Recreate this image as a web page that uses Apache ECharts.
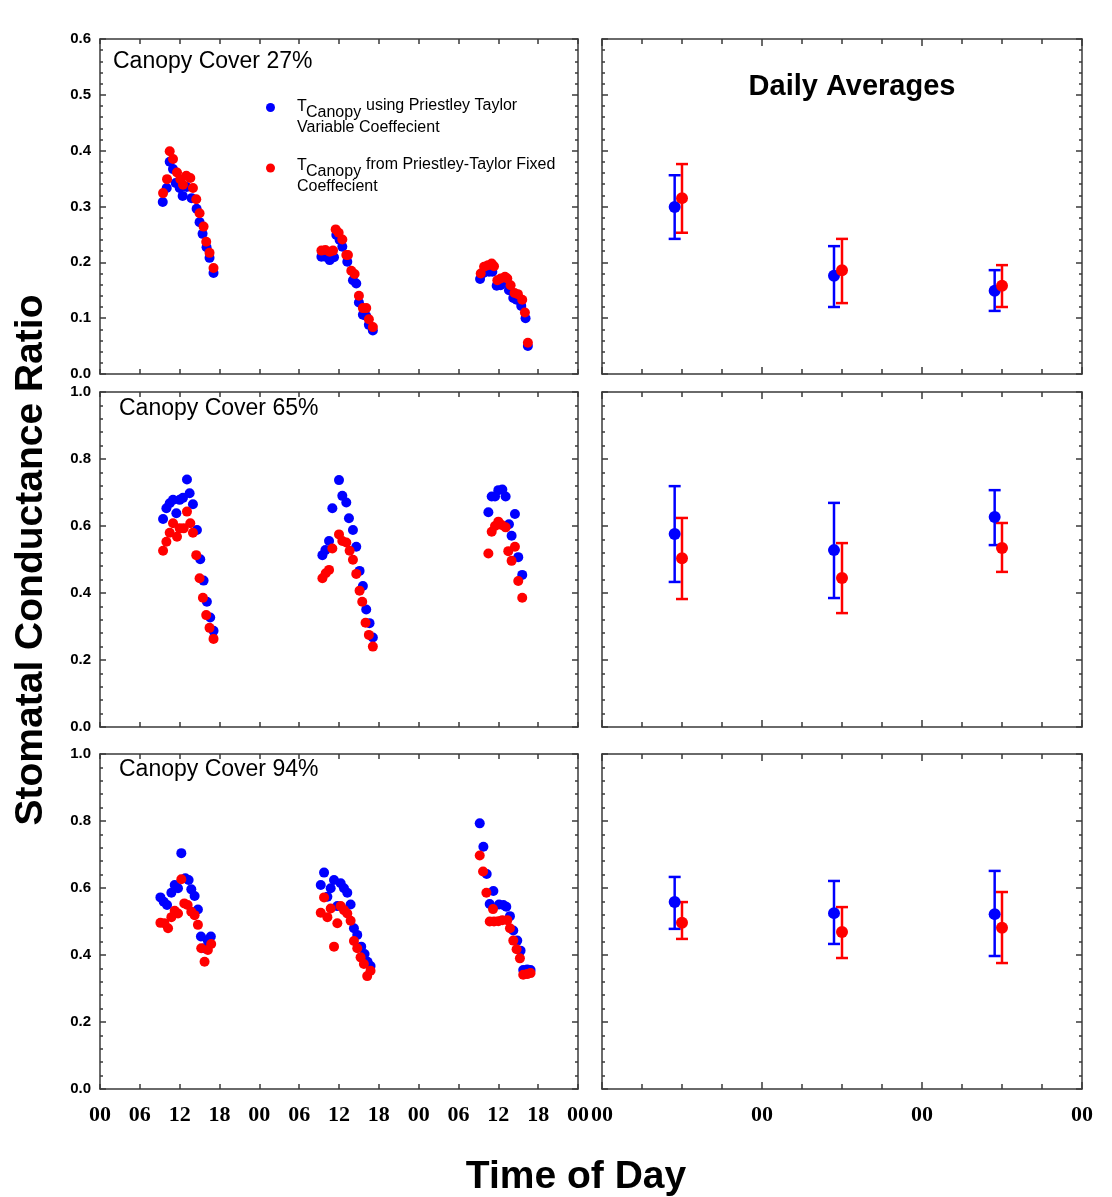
<!DOCTYPE html>
<html>
<head>
<meta charset="utf-8">
<title>Stomatal Conductance Ratio</title>
<script src="https://cdn.jsdelivr.net/npm/echarts@6/dist/echarts.min.js"></script>
<style>
  html, body { margin: 0; padding: 0; background: #ffffff; }
  #chart { width: 1112px; height: 1197px; }
</style>
</head>
<body>
<div id="chart"></div>
<script>
// Hours are counted from midnight of day 1 (0..72 across three days).

// Canopy cover 27 %
const blue27 = [
  [9.45,.308],[10.05,.333],[10.5,.380],[11.0,.367],[11.4,.342],[12.0,.333],[12.45,.319],[13.05,.335],
  [13.8,.315],[14.55,.296],[15.0,.272],[15.45,.251],[16.05,.227],[16.5,.208],[17.1,.181],
  [33.35,.210],[33.95,.210],[34.6,.204],[35.25,.209],[35.6,.249],[36.1,.240],[36.5,.228],[37.25,.201],
  [38.1,.168],[38.6,.162],[39.0,.128],[39.6,.106],[40.1,.104],[40.5,.088],[41.1,.078],
  [57.25,.170],[57.75,.181],[58.6,.183],[59.1,.183],[59.75,.158],[60.35,.159],[61.1,.165],[61.6,.150],
  [62.25,.136],[62.75,.133],[63.45,.122],[64.1,.100],[64.45,.050]
];
const red27 = [
  [9.5,.324],[10.1,.349],[10.5,.399],[11.0,.385],[11.6,.361],[12.1,.349],[12.5,.339],[13.0,.355],
  [13.6,.351],[14.0,.333],[14.5,.313],[15.0,.288],[15.6,.264],[16.0,.237],[16.5,.217],[17.1,.190],
  [33.35,.221],[33.95,.222],[34.6,.219],[35.1,.221],[35.5,.259],[35.95,.253],[36.5,.241],[37.1,.213],
  [37.35,.213],[37.85,.185],[38.35,.179],[39.0,.140],[39.6,.118],[40.1,.118],[40.5,.098],[41.1,.084],
  [57.35,.180],[57.85,.192],[58.45,.195],[59.0,.198],[59.35,.193],[59.85,.168],[60.35,.171],[61.0,.174],
  [61.35,.171],[61.85,.159],[62.45,.145],[62.95,.143],[63.6,.133],[64.0,.110],[64.45,.056]
];

// Canopy cover 65 %
const blue65 = [
  [9.5,.621],[10.0,.653],[10.5,.668],[11.0,.678],[11.5,.638],[12.0,.678],[12.5,.684],[13.1,.739],
  [13.5,.698],[14.0,.665],[14.6,.588],[15.1,.501],[15.6,.437],[16.1,.374],[16.6,.327],[17.1,.287],
  [33.5,.513],[33.95,.528],[34.5,.555],[35.0,.653],[36.0,.737],[36.5,.690],[37.1,.670],[37.5,.623],
  [38.1,.588],[38.6,.538],[39.1,.466],[39.6,.421],[40.1,.351],[40.6,.310],[41.1,.267],
  [58.5,.641],[59.0,.688],[59.5,.688],[60.0,.707],[60.6,.709],[61.1,.688],[61.6,.605],[62.0,.571],
  [62.5,.636],[63.0,.507],[63.6,.454]
];
const red65 = [
  [9.5,.526],[10.0,.553],[10.5,.580],[11.0,.608],[11.6,.568],[12.0,.593],[12.6,.593],[13.1,.643],
  [13.6,.608],[14.0,.580],[14.5,.513],[15.0,.444],[15.5,.386],[16.0,.334],[16.5,.296],[17.1,.263],
  [33.5,.444],[34.0,.459],[34.5,.469],[35.0,.533],[36.0,.575],[36.5,.555],[37.1,.551],[37.6,.526],
  [38.1,.499],[38.6,.457],[39.1,.407],[39.5,.374],[40.0,.311],[40.5,.275],[41.1,.240],
  [58.5,.518],[59.0,.583],[59.5,.600],[60.0,.613],[60.5,.603],[61.1,.596],[61.5,.525],[62.0,.496],
  [62.5,.538],[63.0,.436],[63.6,.386]
];

// Canopy cover 94 %
const blue94 = [
  [9.1,.572],[9.6,.559],[10.1,.549],[10.75,.586],[11.25,.609],[11.75,.599],[12.25,.704],[12.85,.629],
  [13.35,.624],[13.75,.596],[14.25,.576],[14.75,.536],[15.2,.455],[15.7,.420],[16.2,.445],[16.7,.455],
  [33.25,.609],[33.75,.646],[34.25,.574],[34.75,.599],[35.25,.624],[35.75,.546],[36.25,.614],[36.75,.599],
  [37.25,.586],[37.75,.551],[38.25,.480],[38.75,.460],[39.35,.425],[39.85,.403],[40.3,.380],[40.75,.367],
  [57.2,.793],[57.75,.723],[58.25,.642],[58.7,.552],[59.25,.591],[60.1,.551],[60.75,.549],[61.2,.544],
  [61.75,.516],[62.25,.473],[62.85,.443],[63.35,.413],[63.75,.355],[64.35,.357],[64.85,.355]
];
const red94 = [
  [9.1,.496],[9.7,.495],[10.25,.480],[10.75,.513],[11.25,.532],[11.75,.524],[12.25,.626],[12.7,.554],
  [13.2,.549],[13.75,.529],[14.25,.519],[14.75,.490],[15.25,.420],[15.75,.380],[16.25,.415],[16.75,.433],
  [33.25,.526],[33.75,.572],[34.25,.513],[34.75,.539],[35.25,.425],[35.75,.495],[36.25,.546],[36.75,.534],
  [37.25,.524],[37.75,.502],[38.25,.442],[38.75,.420],[39.25,.393],[39.75,.373],[40.25,.337],[40.75,.353],
  [57.2,.697],[57.7,.649],[58.2,.586],[58.7,.500],[59.2,.537],[59.35,.500],[60.0,.501],[60.6,.504],
  [61.35,.504],[61.75,.480],[62.25,.443],[62.75,.417],[63.25,.390],[63.75,.341],[64.35,.343],[64.85,.346]
];

// Daily averages (mean with lower / upper bar ends), plotted at a fixed hour of each day
const avgHoursBlue = [10.9, 34.8, 58.9];
const avgHoursRed  = [12, 36, 60];

const avg27BlueMean = [.299, .176, .149], avg27BlueLo = [.242, .120, .113], avg27BlueHi = [.356, .229, .186];
const avg27RedMean  = [.315, .186, .158], avg27RedLo  = [.253, .127, .120], avg27RedHi  = [.376, .242, .195];
const avg65BlueMean = [.576, .528, .627], avg65BlueLo = [.433, .385, .543], avg65BlueHi = [.719, .669, .707];
const avg65RedMean  = [.504, .445, .534], avg65RedLo  = [.382, .340, .463], avg65RedHi  = [.624, .549, .609];
const avg94BlueMean = [.558, .525, .522], avg94BlueLo = [.478, .433, .397], avg94BlueHi = [.633, .621, .651];
const avg94RedMean  = [.496, .469, .481], avg94RedLo  = [.448, .391, .376], avg94RedHi  = [.558, .543, .588];

const panelTitles = ['Canopy Cover 27%', 'Canopy Cover 65%', 'Canopy Cover 94%'];
const yMax = [0.6, 1.0, 1.0];
const yStep = [0.1, 0.2, 0.2];

const BLUE = '#0000ff';
const RED = '#ff0000';
const SANS = "'Liberation Sans', Arial, sans-serif";
const SERIF = "'Liberation Serif', 'Times New Roman', serif";
const AXIS_COLOR = '#3a3a3a';

const rowTops = [39, 392, 754];
const rowHeight = 335;
const leftBox = { left: 100, width: 478 };
const rightBox = { left: 602, width: 480 };

const grids = [];
const xAxes = [];
const yAxes = [];
const series = [];

function hourLabel(v) {
  const h = Math.round(v) % 24;
  return (h < 10 ? '0' : '') + h;
}

function addPanel(row, isLeft) {
  const g = grids.length;
  const box = isLeft ? leftBox : rightBox;
  grids.push({ left: box.left, top: rowTops[row], width: box.width, height: rowHeight, containLabel: false });
  const lineStyle = { color: AXIS_COLOR, width: 1.5 };
  const showX = row === 2;
  const xCommon = {
    gridIndex: g, type: 'value', min: 0, max: 72,
    interval: isLeft ? 6 : 24,
    axisLine: { show: true, onZero: false, lineStyle },
    axisTick: { show: true, inside: true, length: isLeft ? 5 : 7, lineStyle },
    minorTick: { show: !isLeft, splitNumber: 4, length: 5, lineStyle },
    splitLine: { show: false }
  };
  xAxes.push(Object.assign({}, xCommon, {
    position: 'bottom',
    axisLabel: {
      show: showX, margin: 15, color: '#000', fontFamily: SERIF, fontWeight: 'bold', fontSize: 22,
      formatter: hourLabel
    }
  }));
  xAxes.push(Object.assign({}, xCommon, { position: 'top', axisLabel: { show: false } }));
  const yCommon = {
    gridIndex: g, type: 'value', min: 0, max: yMax[row], interval: yStep[row],
    axisLine: { show: true, onZero: false, lineStyle },
    axisTick: { show: true, inside: true, length: 6, lineStyle },
    minorTick: { show: true, splitNumber: 5, length: 3, lineStyle },
    splitLine: { show: false }
  };
  yAxes.push(Object.assign({}, yCommon, {
    position: 'left',
    axisLabel: {
      show: isLeft, margin: 9, color: '#000', fontFamily: SANS, fontWeight: 'bold', fontSize: 15,
      formatter: v => v.toFixed(1)
    }
  }));
  yAxes.push(Object.assign({}, yCommon, { position: 'right', axisLabel: { show: false } }));
  return g;
}

function scatter(g, data, color, size) {
  return {
    type: 'scatter', xAxisIndex: 2 * g, yAxisIndex: 2 * g, data: data,
    symbol: 'circle', symbolSize: size, itemStyle: { color: color, opacity: 1 },
    silent: true
  };
}

function errorBars(g, hours, mean, lo, hi, color) {
  return {
    type: 'custom', xAxisIndex: 2 * g, yAxisIndex: 2 * g,
    data: hours.map((h, i) => [h, mean[i], lo[i], hi[i]]),
    encode: { x: 0, y: [1, 2, 3] },
    renderItem: function (params, api) {
      const x = api.value(0);
      const pHi = api.coord([x, api.value(3)]);
      const pLo = api.coord([x, api.value(2)]);
      const w = 6;
      const st = { stroke: color, lineWidth: 2.5 };
      return {
        type: 'group',
        children: [
          { type: 'line', shape: { x1: pHi[0], y1: pHi[1], x2: pLo[0], y2: pLo[1] }, style: st },
          { type: 'line', shape: { x1: pHi[0] - w, y1: pHi[1], x2: pHi[0] + w, y2: pHi[1] }, style: st },
          { type: 'line', shape: { x1: pLo[0] - w, y1: pLo[1], x2: pLo[0] + w, y2: pLo[1] }, style: st }
        ]
      };
    },
    silent: true
  };
}

const rowPoints = [[blue27, red27], [blue65, red65], [blue94, red94]];
const rowAverages = [
  [avg27BlueMean, avg27BlueLo, avg27BlueHi, avg27RedMean, avg27RedLo, avg27RedHi],
  [avg65BlueMean, avg65BlueLo, avg65BlueHi, avg65RedMean, avg65RedLo, avg65RedHi],
  [avg94BlueMean, avg94BlueLo, avg94BlueHi, avg94RedMean, avg94RedLo, avg94RedHi]
];

for (let row = 0; row < 3; row++) {
  const gl = addPanel(row, true);
  series.push(scatter(gl, rowPoints[row][0], BLUE, 10));
  series.push(scatter(gl, rowPoints[row][1], RED, 10));

  const gr = addPanel(row, false);
  const a = rowAverages[row];
  series.push(errorBars(gr, avgHoursBlue, a[0], a[1], a[2], BLUE));
  series.push(scatter(gr, avgHoursBlue.map((h, i) => [h, a[0][i]]), BLUE, 12));
  series.push(errorBars(gr, avgHoursRed, a[3], a[4], a[5], RED));
  series.push(scatter(gr, avgHoursRed.map((h, i) => [h, a[3][i]]), RED, 12));
}

function label(text, x, y, opts) {
  return {
    type: 'text', x: x, y: y, silent: true,
    rotation: (opts && opts.rotation) || 0,
    style: Object.assign({
      text: text, fill: '#000', font: '23px ' + SANS,
      textAlign: 'left', textVerticalAlign: 'middle'
    }, opts && opts.style)
  };
}

const graphics = [
  label('Stomatal Conductance Ratio', 31, 560, {
    rotation: Math.PI / 2,
    style: { font: 'bold 39px ' + SANS, textAlign: 'center' }
  }),
  label('Time of Day', 576, 1177, { style: { font: 'bold 39px ' + SANS, textAlign: 'center' } }),
  label(panelTitles[0], 113, 62),
  label(panelTitles[1], 119, 409),
  label(panelTitles[2], 119, 770),
  label('Daily Averages', 852, 87, { style: { font: 'bold 29px ' + SANS, textAlign: 'center' } }),

  // legend
  { type: 'circle', shape: { cx: 270.5, cy: 107.5, r: 4.5 }, style: { fill: BLUE }, silent: true },
  label('T', 297, 107, { style: { font: '16px ' + SANS } }),
  label('Canopy', 306, 113, { style: { font: '16px ' + SANS } }),
  label('using Priestley Taylor', 366, 106, { style: { font: '16px ' + SANS } }),
  label('Variable Coeffecient', 297, 128, { style: { font: '16px ' + SANS } }),

  { type: 'circle', shape: { cx: 270.5, cy: 168, r: 4.5 }, style: { fill: RED }, silent: true },
  label('T', 297, 166, { style: { font: '16px ' + SANS } }),
  label('Canopy', 306, 172, { style: { font: '16px ' + SANS } }),
  label('from Priestley-Taylor Fixed', 366, 165, { style: { font: '16px ' + SANS } }),
  label('Coeffecient', 297, 187, { style: { font: '16px ' + SANS } })
];

const chart = echarts.init(document.getElementById('chart'), null, { renderer: 'canvas' });
chart.setOption({
  animation: false,
  backgroundColor: '#ffffff',
  grid: grids,
  xAxis: xAxes,
  yAxis: yAxes,
  series: series,
  graphic: graphics
});
</script>
</body>
</html>
